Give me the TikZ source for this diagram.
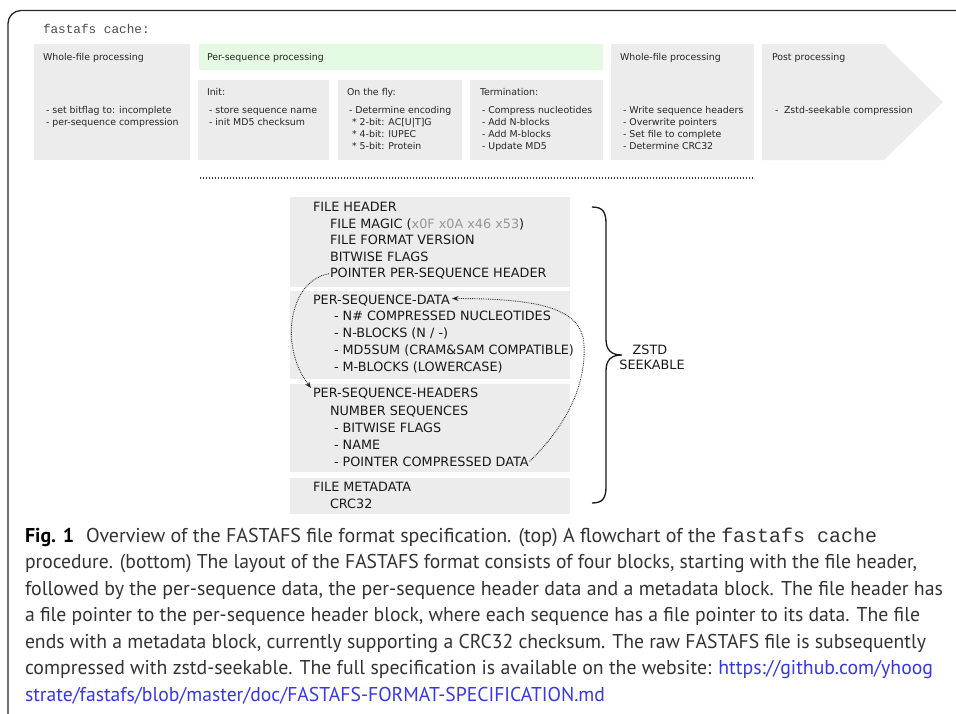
\documentclass[tikz,border=0pt]{standalone}
\usepackage{fontspec}
\usepackage{graphicx}
\usetikzlibrary{arrows.meta}
\newfontfamily\dvfont{DejaVu Sans}
\newfontfamily\capfont{PT Sans}
\newfontfamily\lmonofont{Liberation Mono}
\definecolor{boxgray}{RGB}{236,236,236}
\definecolor{boxgreen}{RGB}{228,250,226}
\definecolor{captxt}{RGB}{51,51,51}
\definecolor{linkblue}{RGB}{55,55,230}
\definecolor{hexgray}{RGB}{150,150,150}
\definecolor{framecol}{RGB}{40,40,40}
\newcommand\capl[4]{\node[capline] (#1) at (25,#2) {\resizebox{#3pt}{\height}{#4}};}
\begin{document}
\begin{tikzpicture}[x=1pt,y=-1pt,
  every node/.style={inner sep=0pt,outer sep=0pt},
  smalltxt/.style={anchor=base west,font=\dvfont\fontsize{9.4}{11}\selectfont,text=black!85},
  bigtxt/.style={anchor=base west,font=\dvfont\fontsize{12.8}{14}\selectfont,text=black!90},
  capline/.style={anchor=base west,font=\capfont\fontsize{20}{24}\selectfont,text=captxt},
  procbox/.style={fill=boxgray,draw=none},
  ptr/.style={draw=black!85,line width=0.9pt,dash pattern=on 0.8pt off 1pt,
    -{Stealth[length=6.5pt,width=5pt,fill=black!85]}}]
\useasboundingbox (0,0) rectangle (956,713);
\fill[white] (0,0) rectangle (956,713);
% frame
\draw[framecol,line width=1.3pt,rounded corners=13pt] (957,10.5) -- (8,10.5) -- (8,714);
% title
\node[anchor=base west,font=\lmonofont\fontsize{12.7}{14}\selectfont,text=black!70] (title) at (43,33) {fastafs cache:};
% top boxes
\path[procbox] (34,44) rectangle (190,160);
\path[fill=boxgreen] (199,44) rectangle (603,70);
\path[procbox] (198,80) rectangle (329,160);
\path[procbox] (338,80) rectangle (462,160);
\path[procbox] (470,80) rectangle (603,160);
\path[procbox] (611,44) rectangle (754,160);
\path[procbox] (762,44) -- (884,44) -- (943,102) -- (884,160) -- (762,160) -- cycle;
% top texts
\node[smalltxt] (wfa) at (43,60.5) {Whole-file processing};
\node[smalltxt] (wfa1) at (46,113.5) {- set bitflag to: incomplete};
\node[smalltxt] (wfa2) at (46,125.5) {- per-sequence compression};
\node[smalltxt] (pst) at (207,60.5) {Per-sequence processing};
\node[smalltxt] (initt) at (207,95.5) {Init:};
\node[smalltxt] (init1) at (209,113.5) {- store sequence name};
\node[smalltxt] (init2) at (209,125.5) {- init MD5 checksum};
\node[smalltxt] (flyt) at (347,95.5) {On the fly:};
\node[smalltxt] (fly1) at (349,113.5) {- Determine encoding};
\node[smalltxt] (fly2) at (352,125.5) {* 2-bit: AC[U|T]G};
\node[smalltxt] (fly3) at (352,137.5) {* 4-bit: IUPEC};
\node[smalltxt] (fly4) at (352,149.5) {* 5-bit: Protein};
\node[smalltxt] (termt) at (480,95.5) {Termination:};
\node[smalltxt] (term1) at (482,113.5) {- Compress nucleotides};
\node[smalltxt] (term2) at (482,125.5) {- Add N-blocks};
\node[smalltxt] (term3) at (482,137.5) {- Add M-blocks};
\node[smalltxt] (term4) at (482,149.5) {- Update MD5};
\node[smalltxt] (wfb) at (620,60.5) {Whole-file processing};
\node[smalltxt] (wfb1) at (623,113.5) {- Write sequence headers};
\node[smalltxt] (wfb2) at (623,125.5) {- Overwrite pointers};
\node[smalltxt] (wfb3) at (623,137.5) {- Set file to complete};
\node[smalltxt] (wfb4) at (623,149.5) {- Determine CRC32};
\node[smalltxt] (postt) at (772,60.5) {Post processing};
\node[smalltxt] (post1) at (775,113.5) {-\hspace{0.6em}Zstd-seekable compression};
% dotted separator
\draw[black!80,line width=1.2pt,dash pattern=on 1.2pt off 1.8pt] (200,178) -- (754,178);
% bottom blocks
\path[procbox] (290,197) rectangle (570,287);
\path[procbox] (290,291) rectangle (570,379);
\path[procbox] (290,384) rectangle (570,472);
\path[procbox] (290,478) rectangle (570,514);
\node[bigtxt] (fh0) at (313,211.5) {FILE HEADER};
\node[bigtxt] (fh1) at (330,228) {FILE MAGIC (\textcolor{hexgray}{x0F x0A x46 x53})};
\node[bigtxt] (fh2) at (330,244.5) {FILE FORMAT VERSION};
\node[bigtxt] (fh3) at (330,261) {BITWISE FLAGS};
\node[bigtxt] (fh4) at (330,277.7) {POINTER PER-SEQUENCE HEADER};
\node[bigtxt] (sd0) at (313,304) {PER-SEQUENCE-DATA};
\node[bigtxt] (sd1) at (334,320.7) {- N\# COMPRESSED NUCLEOTIDES};
\node[bigtxt] (sd2) at (334,337.4) {- N-BLOCKS (N / -)};
\node[bigtxt] (sd3) at (334,354.1) {- MD5SUM (CRAM\&SAM COMPATIBLE)};
\node[bigtxt] (sd4) at (334,371) {- M-BLOCKS (LOWERCASE)};
\node[bigtxt] (sh0) at (313,397.5) {PER-SEQUENCE-HEADERS};
\node[bigtxt] (sh1) at (330,415) {NUMBER SEQUENCES};
\node[bigtxt] (sh2) at (334,432) {- BITWISE FLAGS};
\node[bigtxt] (sh3) at (334,449) {- NAME};
\node[bigtxt] (sh4) at (334,466) {- POINTER COMPRESSED DATA};
\node[bigtxt] (md0) at (313,491) {FILE METADATA};
\node[bigtxt] (md1) at (330,508) {CRC32};
% pointers
\coordinate (a1end) at (311,388);
\draw[ptr] ([xshift=-1pt]fh4.west) .. controls (290,280) and (278,345) .. (a1end);
\coordinate (a2end) at (452,298.5);
\coordinate (a2mid) at (584,345);
\draw[ptr] ([xshift=1pt]sh4.east) .. controls (567,425) and (586,385) .. (a2mid)
  .. controls (582,310) and (545,298.5) .. (a2end);
% brace
\draw[black!90,line width=1.3pt] (592,207) .. controls (603,207) and (606,212) .. (606,224)
  -- (606,339) .. controls (606,350) and (611,355) .. (622,355)
  .. controls (611,355) and (606,360) .. (606,371) -- (606,486)
  .. controls (606,498) and (603,503) .. (592,503);
\node[anchor=base,font=\dvfont\fontsize{12.8}{14}\selectfont,text=black!90] (zs1) at (650,354) {ZSTD};
\node[anchor=base,font=\dvfont\fontsize{12.8}{14}\selectfont,text=black!90] (zs2) at (652,369) {SEEKABLE};
% caption
\capl{cap1}{542}{852}{\textcolor{black}{\textbf{Fig. 1}}\hspace{0.6em}Overview of the FASTAFS file format specification. (top) A flowchart of the {\lmonofont fastafs cache}}
\capl{cap2}{568.5}{892}{procedure. (bottom) The layout of the FASTAFS format consists of four blocks, starting with the file header,}
\capl{cap3}{595}{918}{followed by the per-sequence data, the per-sequence header data and a metadata block. The file header has}
\capl{cap4}{621.5}{895}{a file pointer to the per-sequence header block, where each sequence has a file pointer to its data. The file}
\capl{cap5}{648}{901}{ends with a metadata block, currently supporting a CRC32 checksum. The raw FASTAFS file is subsequently}
\capl{cap6}{674.5}{908}{compressed with zstd-seekable. The full specification is available on the website: \textcolor{linkblue}{https://github.com/yhoog}}
\capl{cap7}{701}{580}{\textcolor{linkblue}{strate/fastafs/blob/master/doc/FASTAFS-FORMAT-SPECIFICATION.md}}
\end{tikzpicture}
\end{document}
